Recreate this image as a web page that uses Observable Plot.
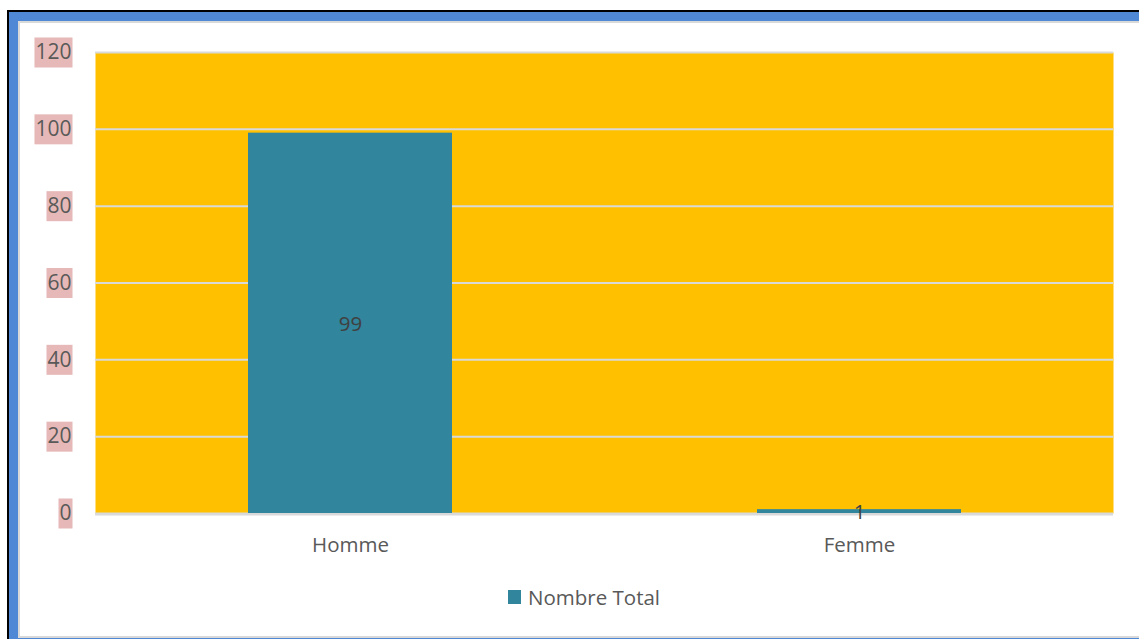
<!DOCTYPE html>
<html>
<head>
<meta charset="utf-8">
<script src="https://cdn.jsdelivr.net/npm/d3@7"></script>
<script src="https://cdn.jsdelivr.net/npm/@observablehq/plot@0.6"></script>
<style>
  html, body { margin: 0; padding: 0; width: 1139px; height: 639px; overflow: hidden; background: #fff; }
  .f { position: absolute; }
  #chart { position: absolute; left: 0; top: 0; }
  #legend { position: absolute; left: 508px; top: 583px; font-family: "Open Sans", sans-serif; font-size: 20.5px; color: #595959; display: flex; align-items: center; }
  #legend .sw { width: 13px; height: 14px; background: #31859c; margin-right: 7px; }
</style>
</head>
<body>
<div class="f" style="left:7px;top:10px;width:1300px;height:700px;background:#000"></div>
<div class="f" style="left:9px;top:12px;width:1300px;height:700px;background:#4f88d4"></div>
<div class="f" style="left:18px;top:21px;width:1300px;height:617px;background:#d9d9d9"></div>
<div class="f" style="left:20px;top:23px;width:1300px;height:613px;background:#fff"></div>
<div id="chart"></div>
<div id="legend"><div class="sw"></div><span>Nombre Total</span></div>
<script>
const categories = ["Homme", "Femme"];
const values = [99, 1];
const yTicks = [0, 20, 40, 60, 80, 100, 120];
const seriesName = "Nombre Total";

const data = categories.map((c, i) => ({cat: c, value: values[i]}));

const chart = Plot.plot({
  width: 1139,
  height: 560,
  marginLeft: 95,
  marginRight: 26,
  marginTop: 52,
  marginBottom: 47,
  style: {fontFamily: "'Open Sans', sans-serif", fontSize: "20.5px", color: "#595959", background: "transparent"},
  x: {domain: categories, paddingInner: 0.6, paddingOuter: 0.3, label: null},
  y: {domain: [0, 120], label: null},
  marks: [
    Plot.frame({fill: "#ffc000", stroke: null}),
    Plot.gridY(yTicks, {stroke: "#d9d9d9", strokeOpacity: 1, strokeWidth: 2}),
    Plot.ruleY([0], {stroke: "#d9d9d9", strokeWidth: 2, dy: 1}),
    Plot.barY(data, {x: "cat", y: "value", fill: "#31859c"}),
    Plot.text(data, {x: "cat", y: d => d.value / 2, text: d => String(d.value), fill: "#404040", fontSize: 20.5, dy: 1}),
    Plot.axisY({ticks: yTicks, tickSize: 0, tickPadding: 24, fill: "#595959", fontSize: 21}),
    Plot.axisX({tickSize: 0, tickPadding: 24, fill: "#595959", fontSize: 20.5})
  ]
});
document.getElementById("chart").appendChild(chart);

// pink label backgrounds behind y tick labels
const yLabels = chart.querySelectorAll('g[aria-label="y-axis tick label"] text');
yLabels.forEach(t => {
  const b = t.getBBox();
  const r = document.createElementNS("http://www.w3.org/2000/svg", "rect");
  r.setAttribute("x", b.x - 1);
  r.setAttribute("y", -15);
  r.setAttribute("width", b.width + 2);
  r.setAttribute("height", 30);
  r.setAttribute("fill", "#e6b9b8");
  const tr = t.getAttribute("transform");
  if (tr) r.setAttribute("transform", tr);
  t.parentNode.insertBefore(r, t);
});
</script>
</body>
</html>
